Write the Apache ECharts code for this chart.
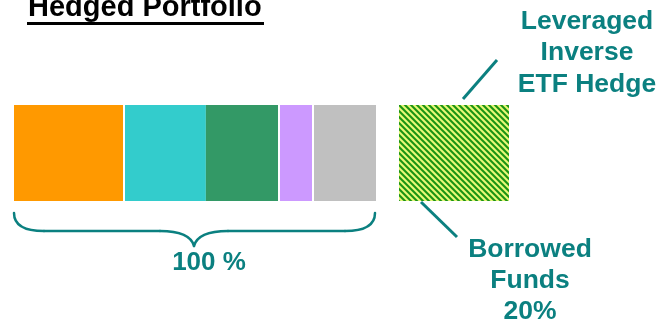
<!DOCTYPE html>
<html>
<head>
<meta charset="utf-8">
<script src="https://cdn.jsdelivr.net/npm/echarts@6/dist/echarts.min.js"></script>
<style>html,body{margin:0;padding:0;background:#fff}#c{width:670px;height:324px}</style>
</head>
<body>
<div id="c"></div>
<script>
// Portfolio composition (share of 100 %)
const categories = ['Portfolio'];
const segmentNames = ['A', 'B', 'C', 'D', 'E'];
const segmentValues = [30.4, 22.6, 20.2, 9.4, 17.4];
const segmentColors = ['#ff9900', '#33cccc', '#339966', '#cc99ff', '#c0c0c0'];
// white separators drawn after these segments (index)
const separatorAfter = [0, 2, 3];
// Borrowed funds hedge
const hedgeValue = [20];
const titleText = 'Hedged Portfolio';
const hedgeLabel = 'Leveraged\nInverse\nETF Hedge';
const borrowLabel = 'Borrowed\nFunds\n20%';
const totalLabel = '100 %';

const TEAL = '#0b8080';
const FONT = '"Liberation Sans", Arial, sans-serif';

function makeHatch() {
  const P = 6;
  const c = document.createElement('canvas');
  c.width = P; c.height = P;
  const ctx = c.getContext('2d');
  const img = ctx.createImageData(P, P);
  const dark = [24, 146, 18], light = [236, 250, 120];
  for (let y = 0; y < P; y++) {
    for (let x = 0; x < P; x++) {
      const t = (((x - y) % P) + P) % P / P;
      let w = 0.5 + 0.5 * Math.cos(t * 2 * Math.PI);
      w = Math.min(1, Math.max(0, (w - 0.5) * 1.4 + 0.5));
      const i = (y * P + x) * 4;
      for (let k = 0; k < 3; k++) img.data[i + k] = Math.round(dark[k] * w + light[k] * (1 - w));
      img.data[i + 3] = 255;
    }
  }
  ctx.putImageData(img, 0, 0);
  return c;
}

// cumulative boundaries for separators
const cum = [];
segmentValues.reduce((a, v) => { cum.push(a + v); return a + v; }, 0);

const chart = echarts.init(document.getElementById('c'), null, {renderer: 'canvas'});

const series = segmentValues.map((v, i) => ({
  type: 'bar',
  name: segmentNames[i],
  stack: 'p',
  xAxisIndex: 0, yAxisIndex: 0,
  barWidth: '100%',
  data: [v],
  itemStyle: { color: segmentColors[i] },
  silent: true
}));
series[series.length - 1].markLine = {
  silent: true,
  symbol: ['none', 'none'],
  label: { show: false },
  lineStyle: { color: '#ffffff', width: 2, type: 'solid' },
  data: separatorAfter.map(i => ({ xAxis: cum[i] }))
};
series.push({
  type: 'bar',
  name: 'Hedge',
  xAxisIndex: 1, yAxisIndex: 1,
  barWidth: '100%',
  data: hedgeValue,
  itemStyle: { color: { image: makeHatch(), repeat: 'repeat' } },
  silent: true
});

const braceStyle = { stroke: TEAL, lineWidth: 2.5, fill: null, lineCap: 'round' };
const lineStyle = { stroke: TEAL, lineWidth: 3 };

chart.setOption({
  animation: false,
  backgroundColor: '#ffffff',
  grid: [
    { left: 14, top: 105, width: 362, height: 96 },
    { left: 399, top: 105, width: 110, height: 96 }
  ],
  xAxis: [
    { type: 'value', gridIndex: 0, min: 0, max: 100, show: false },
    { type: 'value', gridIndex: 1, min: 0, max: 20, show: false }
  ],
  yAxis: [
    { type: 'category', gridIndex: 0, data: categories, show: false },
    { type: 'category', gridIndex: 1, data: categories, show: false }
  ],
  series: series,
  graphic: [
    { type: 'text', x: 28, y: -7,
      style: { text: titleText, font: 'bold 29px ' + FONT, fill: '#000', textVerticalAlign: 'top' } },
    { type: 'rect', shape: { x: 27, y: 22, width: 237, height: 3 }, style: { fill: '#000' } },
    { type: 'text', x: 587, y: 6, scaleX: 1.06, originX: 0,
      style: { text: hedgeLabel, font: 'bold 25px ' + FONT, fill: TEAL, textAlign: 'center', textVerticalAlign: 'top', lineHeight: 31.5 } },
    { type: 'text', x: 530, y: 235, scaleX: 1.06, originX: 0,
      style: { text: borrowLabel, font: 'bold 25px ' + FONT, fill: TEAL, textAlign: 'center', textVerticalAlign: 'top', lineHeight: 31 } },
    { type: 'text', x: 209, y: 250,
      style: { text: totalLabel, font: 'bold 26px ' + FONT, fill: TEAL, textAlign: 'center', textVerticalAlign: 'top', lineHeight: 26 } },
    { type: 'line', shape: { x1: 497, y1: 60, x2: 463, y2: 99 }, style: lineStyle },
    { type: 'line', shape: { x1: 421, y1: 202, x2: 457, y2: 237 }, style: lineStyle },
    { type: 'bezierCurve', shape: { x1: 14, y1: 213, cpx1: 14, cpy1: 231, x2: 44, y2: 231 }, style: braceStyle },
    { type: 'line', shape: { x1: 44, y1: 231, x2: 160, y2: 231 }, style: braceStyle },
    { type: 'bezierCurve', shape: { x1: 160, y1: 231, cpx1: 190, cpy1: 231, x2: 194, y2: 246 }, style: braceStyle },
    { type: 'bezierCurve', shape: { x1: 194, y1: 246, cpx1: 198, cpy1: 231, x2: 228, y2: 231 }, style: braceStyle },
    { type: 'line', shape: { x1: 228, y1: 231, x2: 345, y2: 231 }, style: braceStyle },
    { type: 'bezierCurve', shape: { x1: 345, y1: 231, cpx1: 375, cpy1: 231, x2: 375, y2: 213 }, style: braceStyle }
  ]
});
</script>
</body>
</html>
